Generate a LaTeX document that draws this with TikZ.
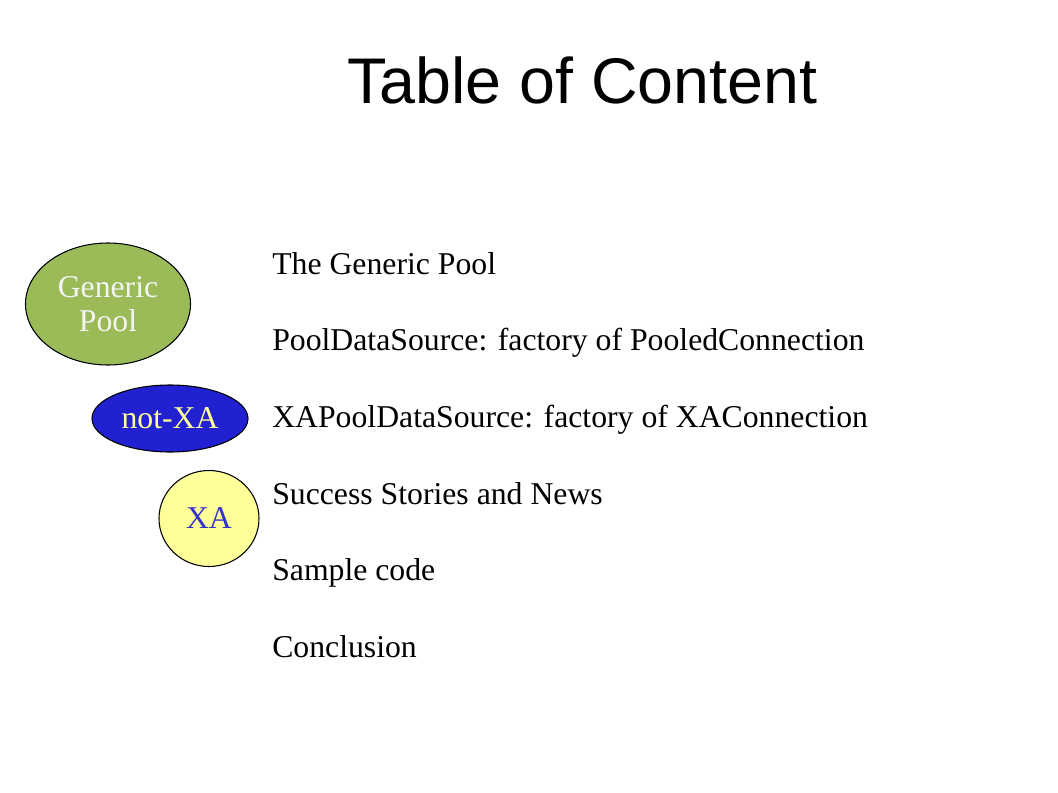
\documentclass[tikz,border=0pt]{standalone}
\usepackage{fontspec}
\setmainfont{Liberation Serif}
\newfontfamily\titlefont{Liberation Sans}
\usetikzlibrary{shapes.geometric}
\definecolor{poolgreen}{HTML}{9BBB59}
\definecolor{notxablue}{HTML}{2121D2}
\definecolor{xayellow}{HTML}{FFFF99}
\definecolor{xatext}{HTML}{3333CC}
\definecolor{lighttext}{HTML}{F4F4F4}
\tikzset{
  bubble/.style={ellipse, draw=black, line width=0.8pt, inner sep=0pt, align=center,
    font=\fontsize{23.8}{25.5}\selectfont},
  item/.style={anchor=base west, inner sep=0pt, font=\fontsize{23.8}{28}\selectfont},
  titletext/.style={anchor=base west, inner sep=0pt, font=\titlefont\fontsize{48.4}{52}\selectfont}
}
\begin{document}
\begin{tikzpicture}[x=0.75pt, y=-0.75pt]
\useasboundingbox (0,0) rectangle (1058,793);
\fill[white] (0,0) rectangle (1058,793);
\node[titletext] (title) at (347,103) {Table of Content};
\node[bubble, fill=poolgreen, text=lighttext, minimum width=123.75pt, minimum height=91.5pt] (generic) at (108,304) {Generic\\Pool};
\node[bubble, fill=notxablue, text=xayellow, minimum width=117pt, minimum height=50.25pt] (notxa) at (170,418.5) {not-XA};
\node[bubble, fill=xayellow, text=xatext, minimum width=75pt, minimum height=72pt] (xa) at (209,518.5) {XA};
\node[item] (i1) at (272,274) {The Generic Pool};
\node[item] (i2) at (272,350.5) {PoolDataSource: factory of PooledConnection};
\node[item] (i3) at (272,427) {XAPoolDataSource: factory of XAConnection};
\node[item] (i4) at (272,504) {Success Stories and News};
\node[item] (i5) at (272,580.5) {Sample code};
\node[item] (i6) at (272,657) {Conclusion};
\end{tikzpicture}
\end{document}
